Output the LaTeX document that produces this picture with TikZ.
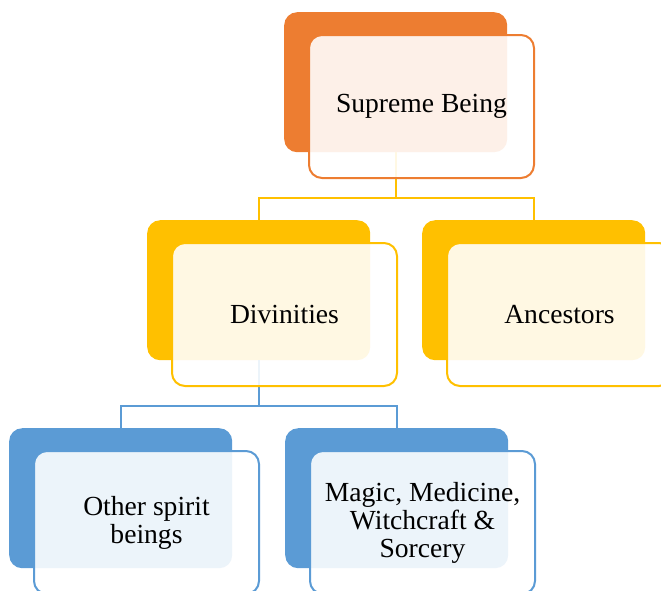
\documentclass[tikz,border=0pt]{standalone}
\usepackage{fontspec}
\setmainfont{Liberation Serif}
\usepackage{tikz}
\definecolor{sb_orange}{HTML}{ED7D31}
\definecolor{lv_gold}{HTML}{FFC000}
\definecolor{lv_blue}{HTML}{5B9BD5}
\tikzset{
  box_font/.style = {font=\fontsize{27.6}{28}\selectfont},
  box_size/.style = {minimum width=223, minimum height=140, inner sep=0},
  front_size/.style = {minimum width=225, minimum height=143, inner sep=0}
}
\tikzset{
  back/.style = {box_size, rounded corners=13, anchor=north west, fill=#1},
  front/.style = {front_size, box_font, align=center, rounded corners=13, anchor=north west,
    draw=#1, line width=2, fill=white, fill opacity=0.89, text opacity=1, draw opacity=1},
  link/.style = {draw=#1, line width=2}
}
\usetikzlibrary{calc}

\begin{document}
\begin{tikzpicture}[x=1pt, y=-1pt]{
        \clip (0,0) rectangle (661,590);

        % Back panels
        \node[back=sb_orange] at (284,12) (sb_back) {};
        \node[back=lv_gold] at (147,220) (dv_back) {};
        \node[back=lv_gold] at (422,220) (an_back) {};
        \node[back=lv_blue] at (9,428) (os_back) {};
        \node[back=lv_blue] at (285,428) (mm_back) {};

        % Connectors
        \draw[link=lv_gold] (sb_back.south) -- ++(0,46) -| (dv_back.north);
        \draw[link=lv_gold] (sb_back.south) -- ++(0,46) -| (an_back.north);
        \draw[link=lv_blue] (dv_back.south) -- ++(0,46) -| (os_back.north);
        \draw[link=lv_blue] (dv_back.south) -- ++(0,46) -| (mm_back.north);

        % Front panels
        \node[front=sb_orange] at ($(sb_back.north west)+(24,22)$) (sb) {Supreme Being};
        \node[front=lv_gold] at ($(dv_back.north west)+(24,22)$) (dv) {Divinities};
        \node[front=lv_gold] at ($(an_back.north west)+(24,22)$) (an) {Ancestors};
        \node[front=lv_blue] at ($(os_back.north west)+(24,22)$) (os) {Other spirit\\beings};
        \node[front=lv_blue] at ($(mm_back.north west)+(24,22)$) (mm) {Magic, Medicine,\\Witchcraft \&\\Sorcery};
        }
\end{tikzpicture}
\end{document}
